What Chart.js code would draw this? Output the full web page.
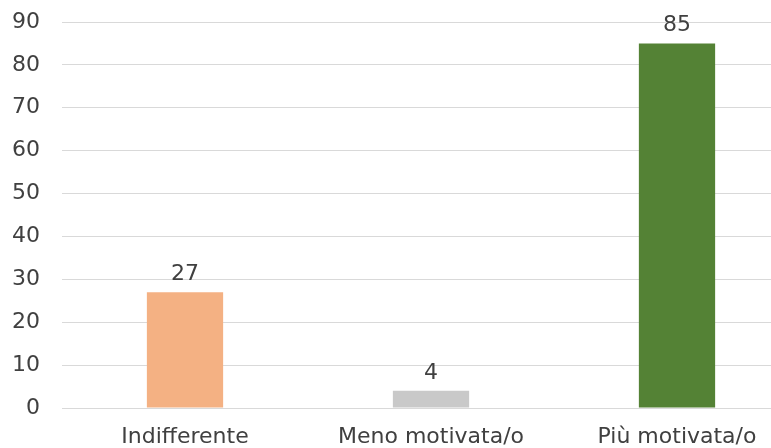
<!DOCTYPE html>
<html>
<head>
<meta charset="utf-8">
<script src="https://cdn.jsdelivr.net/npm/chart.js@4"></script>
<style>
  html, body { margin: 0; padding: 0; background: #fff; overflow: hidden; }
  #wrap { width: 800px; height: 448px; position: relative; }
</style>
</head>
<body>
<div id="wrap"><canvas id="barChart"></canvas></div>
<script>
const categories = ['Indifferente', 'Meno motivata/o', 'Più motivata/o'];
const counts = [27, 4, 85];
const barColors = ['#F4B183', '#C9C9C9', '#548235'];

const textColor = '#404040';
const fontFamily = '"DejaVu Sans", Verdana, sans-serif';

// writes the value on top of each bar
const valueLabels = {
  id: 'valueLabels',
  afterDatasetsDraw(chart) {
    const ctx = chart.ctx;
    const meta = chart.getDatasetMeta(0);
    ctx.save();
    ctx.font = '22px ' + fontFamily;
    ctx.fillStyle = textColor;
    ctx.textAlign = 'center';
    ctx.textBaseline = 'alphabetic';
    meta.data.forEach((bar, i) => {
      ctx.fillText(String(counts[i]), bar.x, bar.y - 12);
    });
    ctx.restore();
  }
};

const loadBarChart = () => {
  const ctx = document.getElementById('barChart');
  new Chart(ctx, {
    type: 'bar',
    data: {
      labels: categories,
      datasets: [{
        data: counts,
        backgroundColor: barColors,
        borderWidth: 0,
        barPercentage: 0.31,
        categoryPercentage: 1
      }]
    },
    options: {
      responsive: true,
      maintainAspectRatio: false,
      animation: false,
      layout: { padding: { left: 0, top: 22, right: 0, bottom: 0 } },
      plugins: { legend: { display: false }, tooltip: { enabled: false } },
      scales: {
        x: {
          grid: { display: false, drawTicks: false },
          border: { display: false },
          ticks: { color: textColor, font: { family: fontFamily, size: 22 }, padding: 16, maxRotation: 0 },
          afterFit: (scale) => { scale.height = 40; }
        },
        y: {
          min: 0,
          max: 90,
          ticks: { stepSize: 10, color: textColor, font: { family: fontFamily, size: 22 }, padding: 22 },
          grid: { color: '#D9D9D9', lineWidth: 1, drawTicks: false },
          border: { display: false },
          afterFit: (scale) => {
            scale.width = 62;
            scale.paddingTop = 0;
            scale.paddingBottom = 0;
          }
        }
      }
    },
    plugins: [valueLabels]
  });
};

loadBarChart();
</script>
</body>
</html>
